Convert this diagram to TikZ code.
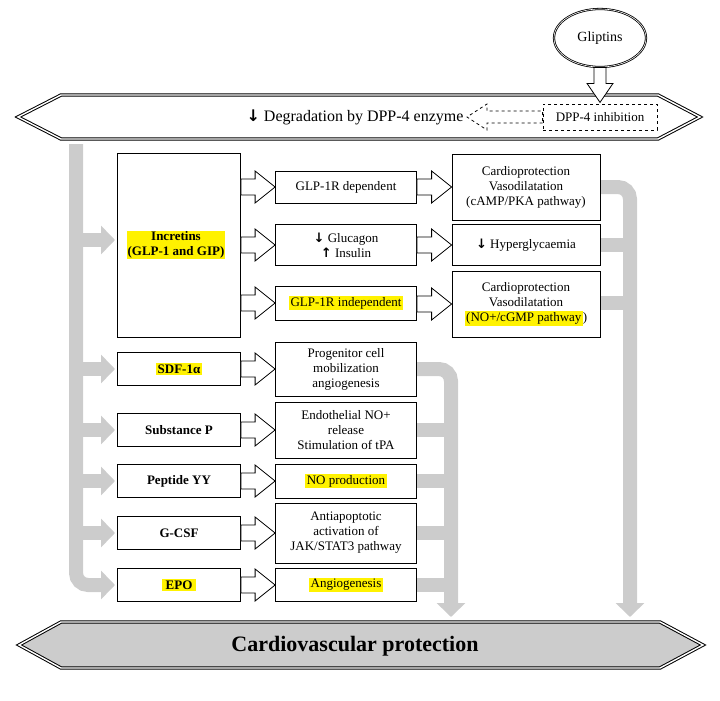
\documentclass[tikz,border=0pt]{standalone}
\usepackage{fontspec}
\setmainfont{Liberation Serif}
\usetikzlibrary{calc,arrows.meta,shapes.geometric}
\setlength{\fboxsep}{1.5pt}

\tikzset{
  box/.style={draw,thick,fill=white,align=center,inner sep=2pt,font=\fontsize{13}{15}\selectfont},
  lbox/.style={box,font=\fontsize{13}{15}\selectfont\bfseries},
  hl/.style={fill=yellow,inner sep=1pt},
  harrow/.style={draw,thick,fill=white},
  gbar/.style={line width=14pt,draw=black!20,rounded corners=12pt},
  garrow/.style={gbar,-{Triangle[width=28pt,length=14pt]}},
}
% hollow arrow from the east side of #1 to the west side of #2
\newcommand\harr[3][]{\draw[harrow,#1] let \p1=(#2.east), \p2=(#3.west) in
  (\x1,\y2+8) -- (\x2-20,\y2+8) -- (\x2-20,\y2+16) -- (\x2,\y2)
  -- (\x2-20,\y2-16) -- (\x2-20,\y2-8) -- (\x1,\y2-8) -- cycle;}

\begin{document}
\begin{tikzpicture}[x=1pt,y=-1pt]
\useasboundingbox (0,0) rectangle (720,701);

% grey flows
\draw[garrow] (76,144) -- (76,585) -- (115,585);
\foreach \y in {240,369,430,481,533} \draw[garrow] (76,\y) -- (115,\y);
\draw[garrow] (417,369) -- (451,369) -- (451,617);
\foreach \y in {430,481,533,585} \draw[gbar] (417,\y) -- (451,\y);
\draw[garrow] (600,187) -- (630,187) -- (630,617);
\foreach \y in {245,303} \draw[gbar] (600,\y) -- (630,\y);

% banners
\draw[double,double distance=1.4pt,line width=1pt,fill=white]
  (18,117) -- (61,95) -- (658,95) -- (700,117) -- (658,139) -- (61,139) -- cycle;
\draw[double,double distance=1.4pt,line width=1pt,fill=black!20]
  (19,645) -- (61,622) -- (660,622) -- (703,645) -- (660,668) -- (61,668) -- cycle;
\node[font=\fontsize{16}{18}\selectfont] (degr) at (355,117) {{\fontspec{DejaVu Sans}\textbf{↓}} Degradation by DPP-4 enzyme};
\node[font=\fontsize{22}{24}\selectfont\bfseries] (cvp) at (355,646) {Cardiovascular protection};

\node[draw,thick,double,ellipse,minimum width=92pt,minimum height=58pt,font=\fontsize{14}{16}\selectfont] (glip) at (600,38) {Gliptins};
\node[draw,thick,dashed,minimum width=114pt,minimum height=26pt,font=\fontsize{13}{15}\selectfont] (dppinh) at (600,117) {DPP-4 inhibition};
\draw[harrow] let \p1=(glip.south) in
  (\x1-6,\y1) -- (\x1-6,\y1-16) -- (\x1-13,\y1-16) -- (\x1,\y1-35) -- (\x1+13,\y1-16) -- (\x1+6,\y1-16) -- (\x1+6,\y1) -- cycle;
\draw[harrow,dashed] let \p1=(dppinh.west), \p2=(degr.east) in
  (\x1,\y1-6) -- (\x2+20,\y1-6) -- (\x2+20,\y1-13) -- (\x2,\y1) -- (\x2+20,\y1+13) -- (\x2+20,\y1+6) -- (\x1,\y1+6) -- cycle;

% incretins block
\node[lbox,minimum width=123pt,minimum height=184pt] (inc) at (179,245) {};
\node[hl,font=\fontsize{13}{15}\selectfont\bfseries,align=center] at (176,245) {Incretins\\(GLP-1 and GIP)};
\node[box,minimum width=141pt,minimum height=32pt] (glpdep) at (346,187) {GLP-1R dependent};
\node[box,minimum width=141pt,minimum height=41pt] (gluc) at (346,245)
  {{\fontspec{DejaVu Sans}\textbf{↓}} Glucagon\\{\fontspec{DejaVu Sans}\textbf{↑}} Insulin};
\node[box,minimum width=141pt,minimum height=34pt] (glpind) at (346,303) {\colorbox{yellow}{GLP-1R independent}};
\node[box,minimum width=148pt,minimum height=66pt] (cardA) at (526,187) {Cardioprotection\\Vasodilatation\\(cAMP/PKA pathway)};
\node[box,minimum width=148pt,minimum height=41pt] (hyper) at (526,245) {{\fontspec{DejaVu Sans}\textbf{↓}} Hyperglycaemia};
\node[box,minimum width=148pt,minimum height=66pt] (cardB) at (526,304) {Cardioprotection\\Vasodilatation\\\colorbox{yellow}{(NO+/cGMP pathway})};
\harr{inc}{glpdep}
\harr{inc}{gluc}
\harr{inc}{glpind}
\harr{glpdep}{cardA}
\harr{gluc}{hyper}
\harr{glpind}{cardB}

% other substrates
\node[lbox,minimum width=123pt,minimum height=33pt] (sdf) at (179,369) {\colorbox{yellow}{SDF-1α}};
\node[lbox,minimum width=123pt,minimum height=33pt] (subp) at (179,430) {Substance P};
\node[lbox,minimum width=123pt,minimum height=33pt] (pyy) at (179,481) {Peptide YY};
\node[lbox,minimum width=123pt,minimum height=33pt] (gcsf) at (179,533) {G-CSF};
\node[lbox,minimum width=123pt,minimum height=33pt] (epo) at (179,585) {\colorbox{yellow}{\,EPO\,}};
\node[box,minimum width=141pt,minimum height=54pt] (prog) at (346,369) {Progenitor cell\\mobilization\\angiogenesis};
\node[box,minimum width=141pt,minimum height=56pt] (endo) at (346,430) {Endothelial NO+\\release\\Stimulation of tPA};
\node[box,minimum width=141pt,minimum height=34pt] (noprod) at (346,481) {\colorbox{yellow}{NO production}};
\node[box,minimum width=141pt,minimum height=60pt] (anti) at (346,533) {Antiapoptotic\\activation of\\JAK/STAT3 pathway};
\node[box,minimum width=141pt,minimum height=33pt] (angio) at (346,585) {\colorbox{yellow}{Angiogenesis}};
\harr{sdf}{prog}
\harr{subp}{endo}
\harr{pyy}{noprod}
\harr{gcsf}{anti}
\harr{epo}{angio}
\end{tikzpicture}
\end{document}
